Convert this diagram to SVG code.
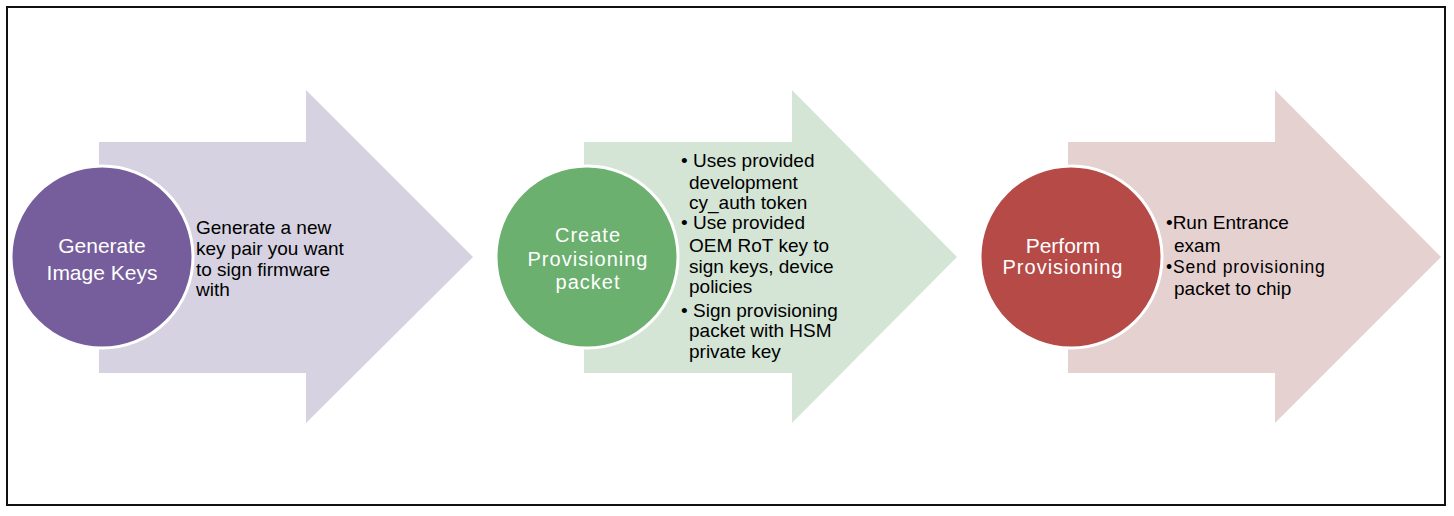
<svg xmlns="http://www.w3.org/2000/svg" width="1454" height="516" viewBox="0 0 1454 516">
<style>
.circ{stroke:#ffffff;stroke-width:3}
.ct{font-family:"Liberation Sans",Arial,sans-serif;fill:#ffffff;text-anchor:middle}
.dt{font-family:"Liberation Sans",Arial,sans-serif;fill:#000000;font-size:19px}
.sp{letter-spacing:1px}
</style>
<rect x="0" y="0" width="1454" height="516" fill="#ffffff"/>
<rect x="7" y="7" width="1438" height="498" fill="none" stroke="#111111" stroke-width="2"/>
<g id="connectors"></g>
<g id="step1">
<polygon points="99,142 306,142 306,90 473,257 306,423 306,373 99,373" fill="#d6d2e1"/>
<circle class="circ" cx="102" cy="257" r="91" fill="#765e9c"/>
<text class="ct" x="102" y="253" font-size="21">Generate</text>
<text class="ct" x="102" y="280" font-size="21">Image Keys</text>
<text class="dt" x="196" y="234">Generate a new</text>
<text class="dt" x="196" y="255">key pair you want</text>
<text class="dt" x="196" y="276">to sign firmware</text>
<text class="dt" x="196" y="296">with</text>
</g>
<g id="step2">
<polygon points="584,142 792,142 792,90 957,257 792,423 792,373 584,373" fill="#d4e5d6"/>
<circle class="circ" cx="587" cy="257" r="91" fill="#6bb06f"/>
<text class="ct sp" x="588" y="242" font-size="20">Create</text>
<text class="ct sp" x="588" y="266" font-size="20">Provisioning</text>
<text class="ct sp" x="588" y="289" font-size="20">packet</text>
<text class="dt" x="681" y="167">•</text>
<text class="dt" x="693" y="167">Uses provided</text>
<text class="dt" x="689" y="189">development</text>
<text class="dt" x="689" y="209">cy_auth token</text>
<text class="dt" x="681" y="229">•</text>
<text class="dt" x="693" y="229">Use provided</text>
<text class="dt" x="689" y="252">OEM RoT key to</text>
<text class="dt" x="689" y="273">sign keys, device</text>
<text class="dt" x="689" y="293">policies</text>
<text class="dt" x="681" y="317">•</text>
<text class="dt" x="693" y="317">Sign provisioning</text>
<text class="dt" x="689" y="337">packet with HSM</text>
<text class="dt" x="689" y="358">private key</text>
</g>
<g id="step3">
<polygon points="1068,142 1275,142 1275,90 1441,257 1275,423 1275,373 1068,373" fill="#e6d1d1"/>
<circle class="circ" cx="1071" cy="257" r="91" fill="#b54a47"/>
<text class="ct" x="1063" y="253" font-size="21">Perform</text>
<text class="ct sp" x="1063" y="274" font-size="20">Provisioning</text>
<text class="dt" x="1166" y="229">•Run Entrance</text>
<text class="dt" x="1174" y="252">exam</text>
<text class="dt" x="1166" y="273" style="font-size:17.5px;letter-spacing:0.8px">•Send provisioning</text>
<text class="dt" x="1174" y="295">packet to chip</text>
</g>
</svg>
